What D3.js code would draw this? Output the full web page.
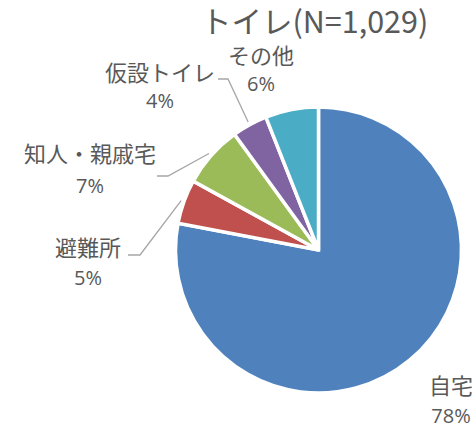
<!DOCTYPE html>
<html>
<head>
<meta charset="utf-8">
<script src="https://cdn.jsdelivr.net/npm/d3@7"></script>
<style>
  body { margin: 0; background: #fff; }
  text { font-family: "Noto Sans CJK JP", "Noto Sans", sans-serif; fill: #595959; }
  text.pct { font-family: "Open Sans", "Noto Sans", sans-serif; }
</style>
</head>
<body>
<div id="chart"></div>
<script>
// data
const categories = ["自宅", "避難所", "知人・親戚宅", "仮設トイレ", "その他"];
const percents = [78, 5, 7, 4, 6];
const colors = ["#4F81BD", "#C0504D", "#9BBB59", "#8064A2", "#4BACC6"];
const title = "トイレ(N=1,029)";

// label layout (x center, name baseline, pct baseline, leader elbow or null)
const labelLayout = [
    {x: 451, y1: 394, y2: 423, leader: null},
    {x: 88,  y1: 256, y2: 285, leader: [[128, 255], [140, 255]]},
    {x: 90,  y1: 162, y2: 193, leader: [[157, 176], [168, 176]]},
    {x: 160, y1: 81,  y2: 108, leader: [[218, 79], [228, 79]]},
    {x: 261, y1: 64,  y2: 91,  leader: null}
];

const width = 474, height = 428;
const cx = 318.5, cy = 250, radius = 143;

const svg = d3.select("#chart").append("svg")
    .attr("width", width)
    .attr("height", height);

// title
svg.append("text")
    .attr("x", 201)
    .attr("y", 33)
    .attr("font-size", 30.5)
    .text(title);

const data = categories.map((c, i) => ({name: c, value: percents[i], color: colors[i], i: i}));

const pie = d3.pie()
    .sort(null)
    .value(d => d.value);

const arc = d3.arc()
    .innerRadius(0)
    .outerRadius(radius);

const arcs = pie(data);

const g = svg.append("g")
    .attr("transform", `translate(${cx},${cy})`);

g.selectAll(".slice")
    .data(arcs)
    .enter()
    .append("path")
    .attr("class", "slice")
    .attr("d", arc)
    .attr("fill", d => d.data.color)
    .attr("stroke", "#fff")
    .attr("stroke-width", 3.5)
    .attr("stroke-linejoin", "miter");

// leader lines
arcs.forEach((d, i) => {
    const lay = labelLayout[i];
    if (!lay.leader) return;
    const mid = (d.startAngle + d.endAngle) / 2;
    const r = radius + 3;
    const end = [cx + r * Math.sin(mid), cy - r * Math.cos(mid)];
    const pts = lay.leader.concat([end]);
    svg.append("path")
        .attr("d", d3.line()(pts))
        .attr("fill", "none")
        .attr("stroke", "#A6A6A6")
        .attr("stroke-width", 1.3);
});

// labels
const labels = svg.selectAll(".label")
    .data(arcs)
    .enter()
    .append("g")
    .attr("class", "label");

labels.append("text")
    .attr("x", (d, i) => labelLayout[i].x)
    .attr("y", (d, i) => labelLayout[i].y1)
    .attr("text-anchor", "middle")
    .attr("font-size", 22)
    .text(d => d.data.name);

labels.append("text")
    .attr("class", "pct")
    .attr("x", (d, i) => labelLayout[i].x)
    .attr("y", (d, i) => labelLayout[i].y2)
    .attr("text-anchor", "middle")
    .attr("font-size", 20)
    .text(d => d.data.value + "%");
</script>
</body>
</html>
